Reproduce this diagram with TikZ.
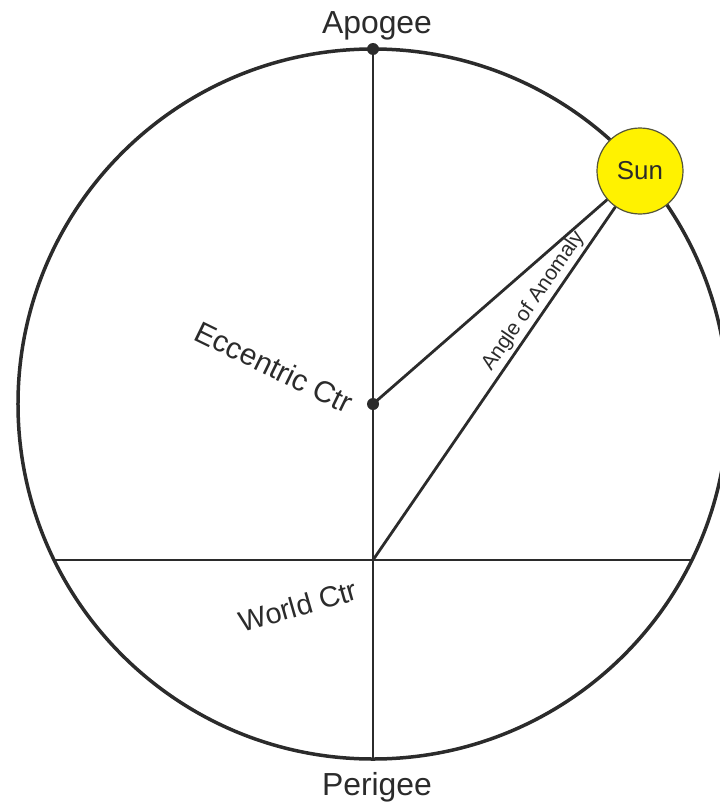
\documentclass[tikz,border=0pt]{standalone}
\usepackage{fontspec}
\setmainfont{Liberation Sans}
\usetikzlibrary{positioning,calc}
\definecolor{orbink}{HTML}{2B2B2B}
\definecolor{sunfill}{HTML}{FFF200}
\definecolor{sunedge}{HTML}{55553A}

\begin{document}
\begin{tikzpicture}[x=1bp, y=-1bp,
  orbit/.style={draw=orbink, line width=3.5bp},
  spoke/.style={draw=orbink, line width=2.8bp},
  pin/.style={circle, fill=orbink, inner sep=0pt, minimum size=12bp},
  lbl/.style={text=orbink, inner sep=0pt},
  sunball/.style={circle, draw=sunedge, fill=sunfill, line width=1.2bp, minimum size=86bp, inner sep=0pt, text=orbink, font=\fontsize{26}{30}\selectfont},
]
% pixel grid of the reference: x right, y down
\useasboundingbox (0,0) rectangle (720,804);
\clip (0,0) rectangle (720,804);
\coordinate (ecc)   at (373,404);
\coordinate (world) at (373,560);
\coordinate (apo)   at (373,49);
\coordinate (peri)  at (373,759);
\coordinate (chordW) at (54.1,560);
\coordinate (chordE) at (691.9,560);
\draw[orbit] (ecc) circle[radius=355bp];
\draw[spoke] (apo) -- (peri);
\draw[spoke] (chordW) -- (chordE);
% sun sits on the orbit
\node[sunball] (sun) at (640,171) {Sun};
\draw[spoke] (ecc) -- (sun);
\draw[spoke] (world) -- node[lbl, sloped, above=3bp, pos=0.71, font=\fontsize{21}{25}\selectfont] (anomlbl) {Angle of Anomaly} (sun);
\node[pin] (apodot) at (apo) {};
\node[pin] (eccdot) at (ecc) {};
% labels
\node[lbl, font=\fontsize{32}{38}\selectfont, anchor=base] (apolbl) at (377,34) {Apogee};
\node[lbl, font=\fontsize{32}{38}\selectfont, anchor=base] (perilbl) at (377,795) {Perigee};
\node[lbl, font=\fontsize{30}{36}\selectfont, rotate=-26] (ecclbl) at (274,367) {Eccentric Ctr};
\node[lbl, font=\fontsize{29}{34}\selectfont, rotate=16] (worldlbl) at (298,606) {World Ctr};
\end{tikzpicture}
\end{document}
